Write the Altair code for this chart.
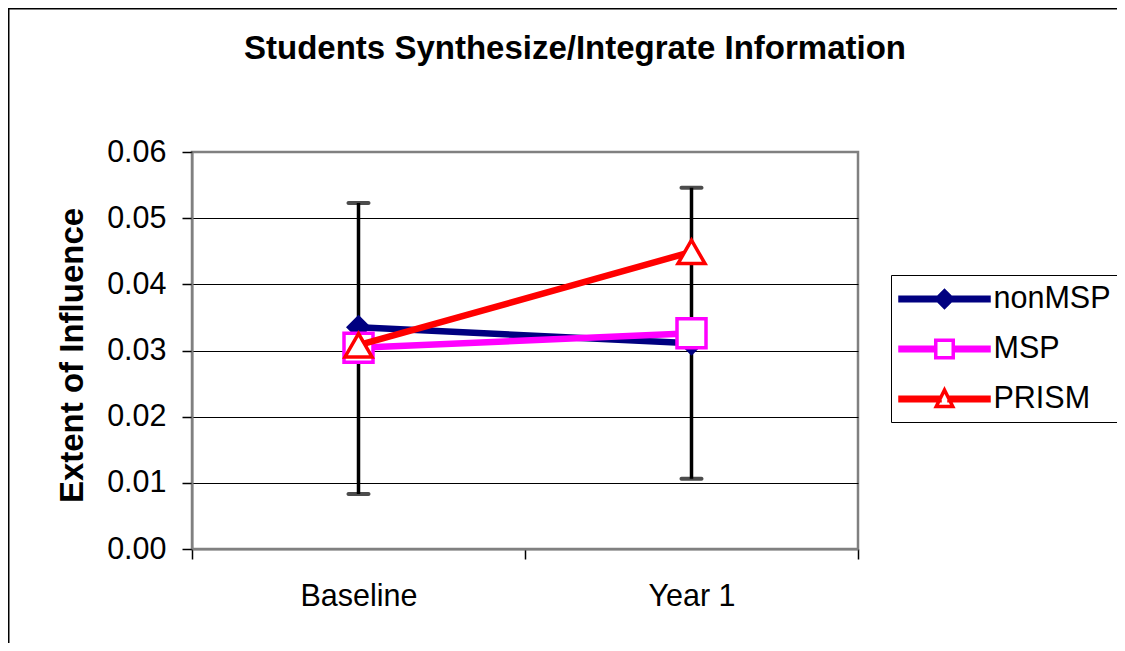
import altair as alt
import pandas as pd

# ---- data ----
categories = ["Baseline", "Year 1"]
series = ["nonMSP", "MSP", "PRISM"]
nonmsp = [0.0335, 0.0311]
msp = [0.0304, 0.0326]
prism = [0.0308, 0.0449]
err_low = [0.0083, 0.0106]
err_high = [0.0523, 0.0546]
y_ticks = [0.0, 0.01, 0.02, 0.03, 0.04, 0.05, 0.06]

colors = ["#000080", "#FF00FF", "#FF0000"]
fills = ["#000080", "white", "white"]
values = {"nonMSP": nonmsp, "MSP": msp, "PRISM": prism}

rows = []
for s in series:
    for c, v in zip(categories, values[s]):
        rows.append({"cat": c, "series": s, "value": v})
df = pd.DataFrame(rows)
err = pd.DataFrame({"cat": categories, "lo": err_low, "hi": err_high})

W, H = 666, 397
FONT = "Liberation Sans"

xscale = alt.Scale(type="band", domain=categories, paddingInner=0, paddingOuter=0)
xaxis = alt.Axis(title=None, labelAngle=0, tickBand="extent", tickSize=10, tickColor="black",
                 tickWidth=1.5, domainColor="#808080", domainWidth=2, labelFontSize=30.5,
                 labelFont=FONT, labelColor="black", labelPadding=22, grid=False)
yscale = alt.Scale(domain=[0, 0.06], nice=False, zero=True)
yaxis = alt.Axis(title="Extent of Influence", values=y_ticks, format=".2f",
                 titleFont=FONT, titleFontSize=33, titleFontWeight="bold", titleColor="black",
                 titleAngle=270, titleAlign="center", titleBaseline="alphabetic",
                 titleX=-110, titleY=203,
                 labelFont=FONT, labelFontSize=30.5, labelColor="black", labelPadding=16,
                 tickSize=10, tickColor="black", tickWidth=1.5,
                 domainColor="#808080", domainWidth=2,
                 gridColor={"condition": {"test": "datum.value > 0.001 && datum.value < 0.059",
                                          "value": "black"}, "value": "transparent"},
                 gridWidth=1)


def X():
    return alt.X("cat:N", scale=xscale, axis=xaxis, sort=categories)


def Y(field):
    return alt.Y(field, type="quantitative", scale=yscale, axis=yaxis)


# legend symbol paths (unit = 15px, symbolSize 900): line + marker
p_non = "M-2.967,-0.11H2.967V0.11H-2.967Z M0,-0.55L0.55,0L0,0.55L-0.55,0Z"
p_msp = ("M-2.967,-0.11H-0.583V0.11H-2.967Z M0.583,-0.11H2.967V0.11H0.583Z "
         "M-0.583,-0.583H0.583V0.583H-0.583Z")
p_pri = ("M-2.967,-0.11H-0.3V0.11H-2.967Z M0.3,-0.11H2.967V0.11H0.3Z "
         "M0,-0.6L0.55,0.5L-0.55,0.5Z")
legend_shapes = [p_non, p_msp, p_pri]

legend = alt.Legend(
    title=None, orient="none", legendX=699, legendY=123,
    symbolSize=900, symbolOffset=29.5, labelOffset=32, padding=7, rowPadding=17,
    symbolStrokeWidth=3.5, symbolOpacity=1,
    labelFont=FONT, labelFontSize=30.5, labelColor="black", labelLimit=300,
    strokeColor="black", fillColor="white",
)

frame = alt.Chart(pd.DataFrame({"k": [0]})).mark_rect(
    filled=False, stroke="black", strokeWidth=1.5
).encode(x=alt.value(-183.25), x2=alt.value(W + 400), y=alt.value(-143.25), y2=alt.value(H + 300))

errbar = alt.Chart(err).mark_rule(color="black", strokeWidth=3.5).encode(
    x=X(), y=Y("lo"), y2="hi")
cap_lo = alt.Chart(err).mark_tick(color="black", thickness=4, size=24, cornerRadius=2).encode(
    x=X(), y=Y("lo"))
cap_hi = alt.Chart(err).mark_tick(color="black", thickness=4, size=24, cornerRadius=2).encode(
    x=X(), y=Y("hi"))

# invisible layer that carries the legend (line + marker symbols)
legend_layer = alt.Chart(df).mark_point(opacity=0, filled=True).encode(
    x=X(), y=Y("value"),
    shape=alt.Shape("series:N", scale=alt.Scale(domain=series, range=legend_shapes), legend=legend),
    fill=alt.Fill("series:N", scale=alt.Scale(domain=series, range=fills), legend=legend),
    stroke=alt.Stroke("series:N", scale=alt.Scale(domain=series, range=colors), legend=legend),
)

marker = {
    "nonMSP": dict(shape="diamond", size=625, filled=True, fill="#000080", stroke="#000080",
                   strokeWidth=0),
    "MSP": dict(shape="square", size=841, filled=True, fill="white", stroke="#FF00FF",
                strokeWidth=3.5),
    "PRISM": dict(shape="triangle-up", size=729, filled=True, fill="white", stroke="#FF0000",
                  strokeWidth=3.5),
}

layers = [frame, errbar, cap_lo, cap_hi, legend_layer]
for s, col in zip(series, colors):
    base = alt.Chart(df).transform_filter(alt.datum.series == s)
    layers.append(base.mark_line(strokeWidth=6.5, color=col).encode(x=X(), y=Y("value")))
    layers.append(base.mark_point(opacity=1, **marker[s]).encode(x=X(), y=Y("value")))

chart = alt.layer(*layers).properties(
    width=W, height=H,
    title=alt.TitleParams("Students Synthesize/Integrate Information", font=FONT, fontSize=33,
                          fontWeight="bold", color="black", anchor="middle", dx=50, dy=84,
                          baseline="alphabetic", offset=0),
    autosize=alt.AutoSizeParams(type="none"),
    padding={"left": 184, "top": 144, "right": 259, "bottom": 94},
    background="white",
).configure_view(stroke="#808080", strokeWidth=2.5)

chart.save("out.html", embed_options={"renderer": "svg", "actions": False})
